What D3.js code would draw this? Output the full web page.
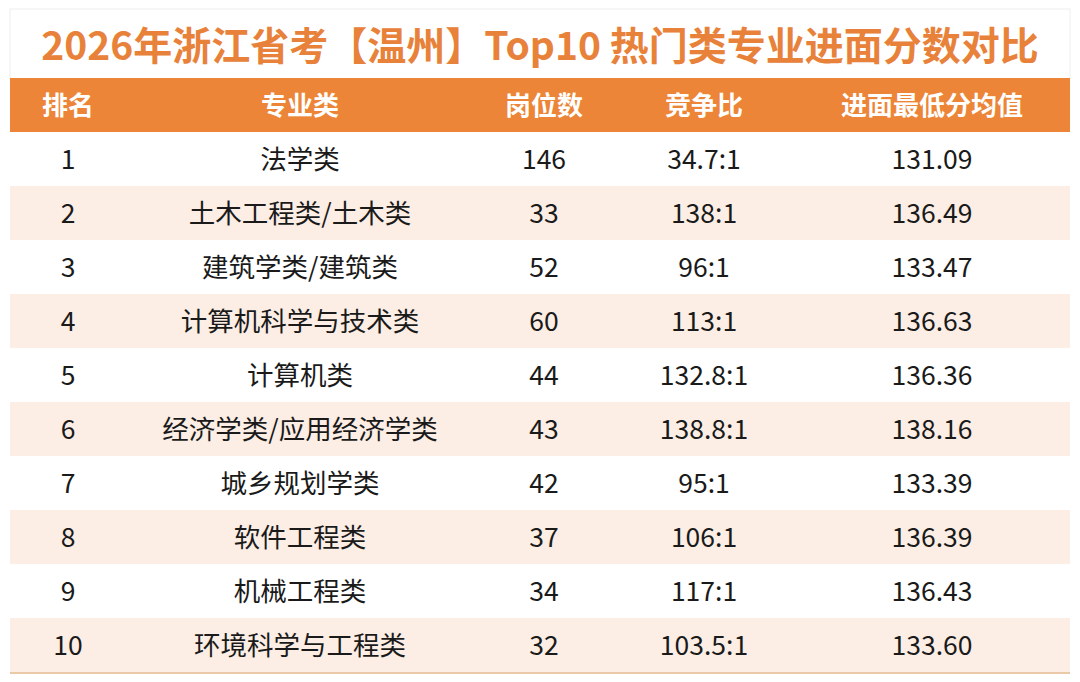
<!DOCTYPE html>
<html><head><meta charset="utf-8">
<script src="https://cdn.jsdelivr.net/npm/d3@7"></script>
<style>body{margin:0;background:#fff}</style>
</head><body><svg id="chart" width="1080" height="682"></svg>
<script>
var headers = ["排名", "专业类", "岗位数", "竞争比", "进面最低分均值"];
var ranks = [1, 2, 3, 4, 5, 6, 7, 8, 9, 10];
var majors = ["法学类", "土木工程类/土木类", "建筑学类/建筑类", "计算机科学与技术类", "计算机类",
  "经济学类/应用经济学类", "城乡规划学类", "软件工程类", "机械工程类", "环境科学与工程类"];
var posts = [146, 33, 52, 60, 44, 43, 42, 37, 34, 32];
var ratios = ["34.7:1", "138:1", "96:1", "113:1", "132.8:1", "138.8:1", "95:1", "106:1", "117:1", "103.5:1"];
var scores = ["131.09", "136.49", "133.47", "136.63", "136.36", "138.16", "133.39", "136.39", "136.43", "133.60"];

var font = "'Noto Sans CJK SC', 'Noto Sans', sans-serif";
var svg = d3.select("#chart");
var colX = [68, 300, 544, 704, 932];

svg.append("rect").attr("x", 10).attr("y", 9).attr("width", 1060).attr("height", 70)
  .attr("fill", "none").attr("stroke", "#eeeeee");

svg.append("text")
  .attr("x", 540).attr("y", 60)
  .text("2026年浙江省考【温州】Top10 热门类专业进面分数对比")
  .attr("font-size", "39px").attr("font-weight", "bold")
  .attr("text-anchor", "middle").attr("font-family", font)
  .attr("fill", "#E8823A");

var y = d3.scaleBand().domain(ranks).range([132, 672]);

svg.append("rect").attr("x", 10).attr("y", 78).attr("width", 1060).attr("height", 54)
  .attr("fill", "#EC8537");

svg.selectAll(".hd").data(headers).enter().append("text")
  .attr("x", function(d, i) { return colX[i]; })
  .attr("y", 115)
  .text(function(d) { return d; })
  .attr("font-size", "26px").attr("font-weight", "bold")
  .attr("text-anchor", "middle").attr("font-family", font)
  .attr("fill", "#fff");

svg.selectAll(".bg").data(ranks).enter().append("rect")
  .attr("x", 10).attr("y", function(d) { return y(d); })
  .attr("width", 1060).attr("height", y.bandwidth())
  .attr("fill", function(d) { return d % 2 === 0 ? "#FCEEE5" : "#fff"; });

var rows = ranks.map(function(r, i) {
  return [r, majors[i], posts[i], ratios[i], scores[i]];
});

rows.forEach(function(row, i) {
  svg.selectAll(".c" + i).data(row).enter().append("text")
    .attr("x", function(d, j) { return colX[j]; })
    .attr("y", y(ranks[i]) + y.bandwidth() / 2 + 10)
    .text(function(d) { return d; })
    .attr("font-size", "26.5px")
    .attr("text-anchor", "middle").attr("font-family", font)
    .attr("fill", "#1a1a1a");
});

svg.append("line").attr("x1", 10).attr("x2", 1070).attr("y1", 673).attr("y2", 673)
  .attr("stroke", "#E9C9A8").attr("stroke-width", 2);
</script></body></html>
